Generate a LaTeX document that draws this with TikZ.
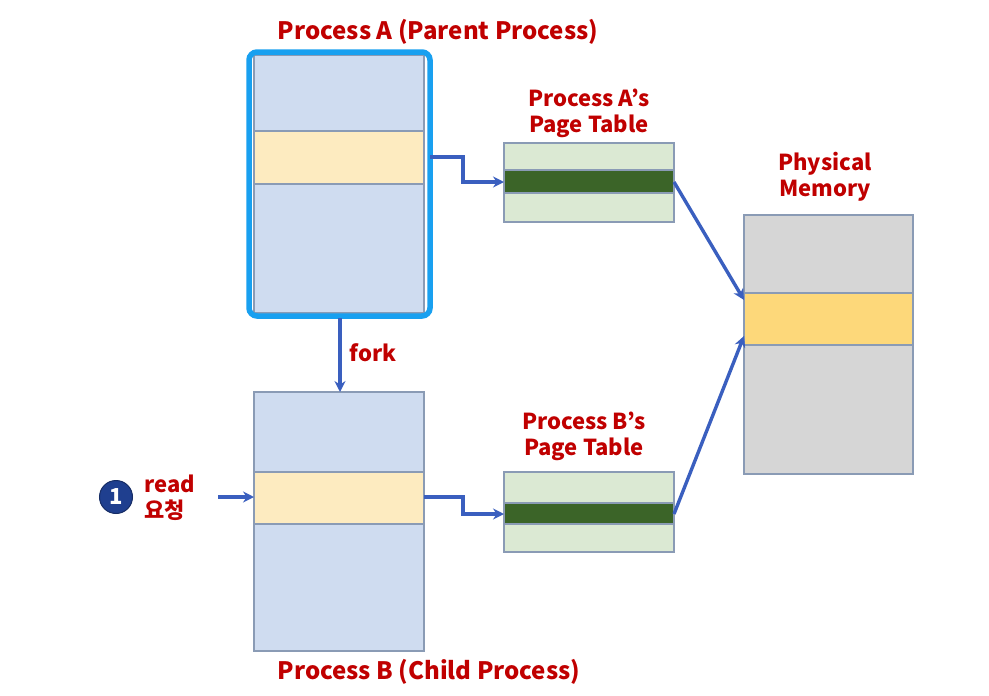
\documentclass[tikz,border=0pt]{standalone}
\usepackage{fontspec}
\setmainfont{Noto Sans CJK KR}
\usetikzlibrary{arrows.meta}
\definecolor{lblue}{HTML}{CFDCF0}
\definecolor{lyel}{HTML}{FDEBC0}
\definecolor{lgreen}{HTML}{DBE9D3}
\definecolor{dgreen}{HTML}{3B6428}
\definecolor{mgray}{HTML}{D6D6D6}
\definecolor{myel}{HTML}{FDD87A}
\definecolor{bord}{HTML}{8A9BB5}
\definecolor{arr}{HTML}{3A5FBF}
\definecolor{hl}{HTML}{18A0F0}
\definecolor{tred}{HTML}{C00000}
\definecolor{navy}{HTML}{1F3F8F}
\tikzset{
  cell/.style={draw=bord, line width=1.3pt},
  lbl/.style={text=tred, font=\fontsize{22}{26}\selectfont\bfseries, align=center, inner sep=0pt},
  biglbl/.style={lbl, font=\fontsize{24}{28}\selectfont\bfseries},
  conn/.style={draw=arr, line width=3.4pt, -{Stealth[length=11pt,width=11pt]}},
}
\begin{document}
\begin{tikzpicture}[x=1pt,y=-1pt]
\useasboundingbox (0,0) rectangle (989,696);
% Process A
\draw[cell, fill=lblue] (254,55) rectangle (424,313);
\draw[cell, fill=lyel] (254,131) rectangle (424,184);
\coordinate (aband) at (430,157);
\draw[hl, line width=5.5pt, rounded corners=8pt] (249,52) rectangle (430,316);
\coordinate (abot) at (340,318);
% Process B
\draw[cell, fill=lblue] (254,392) rectangle (424,651);
\draw[cell, fill=lyel] (254,472) rectangle (424,524);
\coordinate (btop) at (340,392);
\coordinate (bband) at (424,497);
\coordinate (bleft) at (254,497);
% Page table A
\draw[cell, fill=lgreen] (504,143) rectangle (674,222);
\draw[cell, fill=dgreen] (504,170) rectangle (674,193);
\coordinate (pta) at (504,182);
\coordinate (ptar) at (674,182);
% Page table B
\draw[cell, fill=lgreen] (504,472) rectangle (674,552);
\draw[cell, fill=dgreen] (504,503) rectangle (674,524);
\coordinate (ptb) at (504,514);
\coordinate (ptbr) at (674,514);
% Physical memory
\draw[cell, fill=mgray] (744,215) rectangle (913,474);
\draw[cell, fill=myel] (744,293) rectangle (913,345);
\coordinate (pma) at (744,300);
\coordinate (pmb) at (744,336);
% labels
\node[biglbl] (ta) at (438,32) {Process A (Parent Process)};
\node[lbl] (tpa) at (589,113) {Process A’s\\Page Table};
\node[lbl] (tpm) at (825,177) {Physical\\Memory};
\node[lbl] (tpb) at (584,436) {Process B’s\\Page Table};
\node[biglbl] (tb) at (429,672) {Process B (Child Process)};
\node[lbl] (fork) at (373,353) {fork};
\node[lbl, align=left] (read) at (170,498) {read\\요청};
\node[circle, fill=navy, draw=navy!70!black, line width=1pt, minimum size=33pt, inner sep=0pt, text=white, font=\fontsize{22}{24}\selectfont\bfseries] (one) at (116,497) {1};
\coordinate (rs) at (218,497);
% connectors
\draw[conn] (aband) -- (463,157) -- (463,182) -- (pta);
\draw[conn] (bband) -- (463,497) -- (463,514) -- (ptb);
\draw[conn] (ptar) -- (pma);
\draw[conn] (ptbr) -- (pmb);
\draw[conn] (abot) -- (btop);
\draw[conn] (rs) -- (bleft);
\end{tikzpicture}
\end{document}
